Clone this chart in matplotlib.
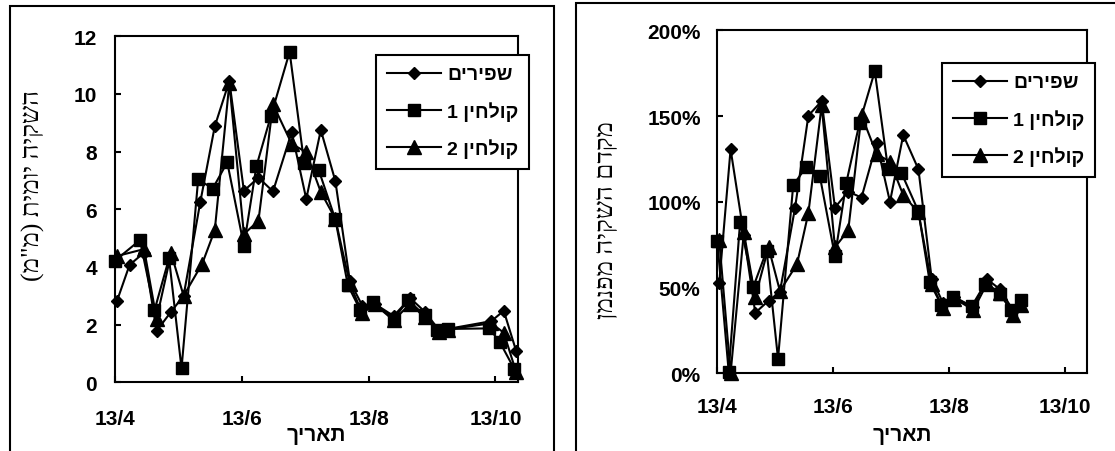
import matplotlib
matplotlib.use('Agg')
import matplotlib.pyplot as plt
from matplotlib.patches import Rectangle
from matplotlib.font_manager import FontProperties
from datetime import datetime

YEAR = 2001

# ---------------- data: daily irrigation (mm) ----------------
left_sp_dates = ['14/4', '20/4', '27/4', '3/5', '10/5', '16/5', '24/5', '31/5', '7/6', '14/6',
                 '21/6', '28/6', '7/7', '14/7', '21/7', '28/7', '4/8', '10/8', '16/8', '25/8',
                 '2/9', '9/9', '16/9', '20/9', '11/10', '17/10', '23/10']
left_sp_vals = [2.83, 4.07, 4.5, 1.78, 2.45, 3.0, 6.24, 8.88, 10.45, 6.64,
                7.1, 6.62, 8.68, 6.36, 8.75, 6.98, 3.5, 2.65, 2.72, 2.3,
                2.92, 2.45, 1.8, 1.85, 2.12, 2.48, 1.08]

left_k1_dates = ['13/4', '25/4', '2/5', '9/5', '15/5', '23/5', '30/5', '6/6', '14/6', '20/6',
                 '27/6', '6/7', '13/7', '20/7', '28/7', '3/8', '9/8', '15/8', '25/8', '1/9',
                 '9/9', '15/9', '20/9', '10/10', '15/10', '22/10']
left_k1_vals = [4.22, 4.93, 2.5, 4.3, 0.48, 7.04, 6.72, 7.63, 4.74, 7.49,
                9.24, 11.46, 7.6, 7.36, 5.65, 3.37, 2.5, 2.78, 2.19, 2.85,
                2.32, 1.82, 1.85, 1.87, 1.41, 0.47]

left_k2_dates = ['14/4', '27/4', '3/5', '10/5', '16/5', '25/5', '31/5', '7/6', '14/6', '21/6',
                 '28/6', '7/7', '14/7', '21/7', '28/7', '4/8', '10/8', '16/8', '25/8', '2/9',
                 '9/9', '16/9', '20/9', '11/10', '17/10', '23/10']
left_k2_vals = [4.38, 4.62, 2.2, 4.47, 3.0, 4.12, 5.28, 10.37, 5.14, 5.6,
                9.64, 8.27, 7.98, 6.6, 5.67, 3.4, 2.4, 2.7, 2.15, 2.72,
                2.25, 1.75, 1.83, 2.05, 1.72, 0.35]

# ---------------- data: irrigation coefficient (% of Penman) ----------------
right_sp_dates = ['14/4', '20/4', '27/4', '3/5', '10/5', '16/5', '24/5', '31/5', '7/6', '14/6',
                  '21/6', '28/6', '6/7', '13/7', '20/7', '28/7', '4/8', '10/8', '16/8', '26/8',
                  '2/9', '9/9', '16/9', '20/9']
right_sp_vals = [52.5, 130.7, 80.7, 35.3, 42.3, 47.5, 96.7, 150.3, 158.8, 96.7,
                 106, 102.5, 134.3, 100, 139, 119, 55, 41, 44.5, 38.5,
                 55, 49, 36.5, 42]

right_k1_dates = ['13/4', '19/4', '25/4', '2/5', '9/5', '15/5', '23/5', '30/5', '6/6', '14/6',
                  '20/6', '27/6', '5/7', '12/7', '19/7', '28/7', '3/8', '9/8', '15/8', '25/8',
                  '1/9', '9/9', '15/9', '20/9']
right_k1_vals = [77, 1, 88, 50.5, 71.5, 8.5, 109.8, 120.5, 115.3, 68.3,
                 111.2, 146.2, 176.2, 119, 117, 94.5, 53, 40, 44.5, 39,
                 52, 46, 37, 43]

right_k2_dates = ['14/4', '20/4', '27/4', '3/5', '10/5', '16/5', '25/5', '31/5', '7/6', '14/6',
                  '21/6', '28/6', '6/7', '13/7', '20/7', '28/7', '4/8', '10/8', '16/8', '26/8',
                  '2/9', '9/9', '16/9', '20/9']
right_k2_vals = [77.8, 0, 82.2, 44.5, 73.5, 48, 63.6, 93.5, 156.2, 73.5,
                 83.3, 150.5, 127.8, 123.5, 104, 93.8, 52, 38, 43.5, 37,
                 52, 47, 34, 40]

series_names = ['שפירים', 'קולחין 1', 'קולחין 2']
x_tick_labels = ['13/4', '13/6', '13/8', '13/10']
left_y_ticks = [0, 2, 4, 6, 8, 10, 12]
right_y_ticks = [0, 50, 100, 150, 200]
left_ylabel = 'השקיה יומית (מ"מ)'
right_ylabel = 'מקדם השקיה מפנמן'
xlabel = 'תאריך'


def d(s):
    dd, mm = s.split('/')
    return datetime(YEAR, int(mm), int(dd))


def vis(s):
    """Visual (LTR) order for a Hebrew RTL string."""
    mirror = {'(': ')', ')': '('}
    return ''.join(mirror.get(c, c) for c in s[::-1])


FAM = ['Liberation Sans', 'DejaVu Sans']
SERIF = ['Liberation Serif', 'DejaVu Sans']
W, H = 1115, 452
fig = plt.figure(figsize=(W / 100, H / 100), dpi=100)


def fx(px):
    return px / W


def fy(py):
    return 1 - py / H


# chart-area frames
for (x0, y0, x1, y1) in [(10, 7, 554, 470), (576, 4, 1130, 470)]:
    fig.patches.append(Rectangle((fx(x0), fy(y1)), fx(x1) - fx(x0), fy(y0) - fy(y1),
                                 transform=fig.transFigure, fill=False, lw=1.5,
                                 ec='black', zorder=0))

axL = fig.add_axes([fx(115), fy(383.3), fx(518.3) - fx(115), fy(37.3) - fy(383.3)])
axR = fig.add_axes([fx(717.3), fy(374.3), fx(1087.3) - fx(717.3), fy(31.4) - fy(374.3)])

styles = [dict(marker='D', ms=6.6), dict(marker='s', ms=8.5), dict(marker='^', ms=9.5)]


def draw(ax, data):
    handles = []
    for (dates, vals), st in zip(data, styles):
        h, = ax.plot([d(s) for s in dates], vals, color='black', lw=1.5,
                     mfc='black', mec='black', clip_on=False, **st)
        handles.append(h)
    return handles


hL = draw(axL, [(left_sp_dates, left_sp_vals), (left_k1_dates, left_k1_vals),
                (left_k2_dates, left_k2_vals)])
hR = draw(axR, [(right_sp_dates, right_sp_vals), (right_k1_dates, right_k1_vals),
                (right_k2_dates, right_k2_vals)])

tick_dates = [d(s) for s in x_tick_labels]
tick_font = dict(fontsize=15, fontweight='bold', family=FAM)

for ax, xmax, yt, ylab, ypad, xpad in [
        (axL, '24/10', left_y_ticks, [str(v) for v in left_y_ticks], 13, 19),
        (axR, '25/10', right_y_ticks, [f'{v}%' for v in right_y_ticks], 12, 17)]:
    ax.set_xlim(d('13/4'), d(xmax))
    ax.set_ylim(yt[0], yt[-1])
    ax.set_xticks(tick_dates)
    ax.set_xticklabels(x_tick_labels, **tick_font)
    ax.set_yticks(yt)
    ax.set_yticklabels(ylab, **tick_font)
    ax.tick_params(axis='both', direction='in', length=4, width=1.5,
                   top=False, right=False)
    ax.tick_params(axis='y', pad=ypad)
    ax.tick_params(axis='x', pad=xpad)
    for sp in ax.spines.values():
        sp.set_linewidth(1.5)

leg_prop = FontProperties(family=FAM, weight='bold', size=14)
for ax, handles, (lx, ly) in [(axL, hL, (376, 56)), (axR, hR, (942, 64))]:
    leg = ax.legend(handles, [vis(n) for n in series_names], loc='upper left',
                    bbox_to_anchor=(fx(lx), fy(ly)), bbox_transform=fig.transFigure,
                    frameon=True, fancybox=False, edgecolor='black', framealpha=1,
                    borderaxespad=0, handlelength=2.8, handletextpad=0.3,
                    labelspacing=0.9, borderpad=0.55, prop=leg_prop)
    leg.get_frame().set_linewidth(1.5)
    leg.set_zorder(10)

# axis titles
fig.text(fx(33), fy(186), vis(left_ylabel), rotation=90, ha='center', va='center',
         fontsize=18.5, family=SERIF)
fig.text(fx(607), fy(220), vis(right_ylabel), rotation=90, ha='center', va='center',
         fontsize=18.5, family=SERIF)
fig.text(fx(316.5), fy(436), vis(xlabel), ha='center', va='center',
         fontsize=15, fontweight='bold', family=FAM)
fig.text(fx(902), fy(436), vis(xlabel), ha='center', va='center',
         fontsize=15, fontweight='bold', family=FAM)

fig.savefig('out.png', dpi=100)
